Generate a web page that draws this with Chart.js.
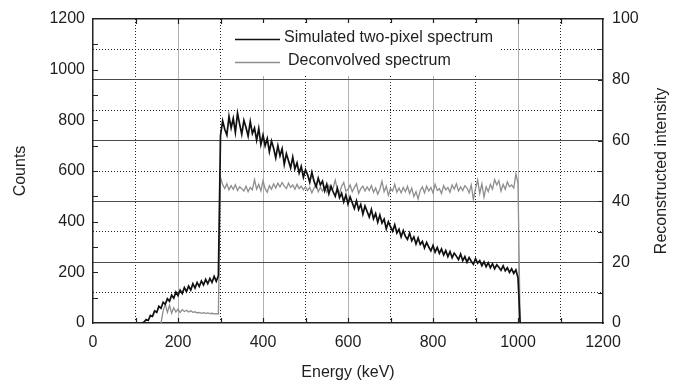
<!DOCTYPE html>
<html>
<head>
<meta charset="utf-8">
<script src="https://cdn.jsdelivr.net/npm/chart.js@4/dist/chart.umd.min.js"></script>
<style>
html,body{margin:0;padding:0;background:#fff;}
#wrap{width:683px;height:387px;}
</style>
</head>
<body>
<div id="wrap"><canvas id="c" width="683" height="387"></canvas></div>
<script>
// ---- Data ----
// Simulated two-pixel spectrum: bins of 5 keV starting at 115 keV (counts, left axis)
const simBinStart = 115;
const simBinWidth = 5;
const simulatedCounts = [
  0, 4, 14, 10, 30, 26, 48, 42, 66, 58, 82, 74, 96, 86, 110, 98, 122, 108, 130, 116,
  140, 124, 146, 130, 155, 138, 160, 144, 166, 150, 172, 155, 176, 160, 184, 165, 186,
  740, 798, 765, 742, 815, 770, 808, 752, 828, 785,
  745, 800, 772, 738, 795, 748, 770, 722, 768, 705,
  742, 700, 728, 676, 718, 690, 652, 700, 660, 688,
  626, 668, 640, 612, 655, 608, 632, 592, 618, 575,
  605, 585, 556, 595, 560, 538, 572, 545, 560, 522,
  548, 510, 540, 518, 500, 532, 495, 512, 478, 505,
  470, 498, 475, 452, 482, 448, 468, 430, 462, 440,
  418, 448, 412, 432, 398, 426, 395, 410, 372, 400,
  380, 362, 388, 355, 370, 340, 365, 342, 330, 355,
  325, 340, 312, 336, 310, 322, 296, 318, 300, 285,
  306, 280, 298, 275, 292, 268, 286, 262, 282, 258,
  276, 264, 250, 272, 246, 262, 240, 258, 244, 232,
  254, 236, 246, 226, 242, 222, 238, 218, 234, 214,
  230, 220, 208, 226, 206, 218, 200, 214, 196, 210,
  178, 0, 0
];
// Deconvolved spectrum: bins of 5 keV starting at 160 keV (reconstructed intensity, right axis)
const deconBinStart = 160;
const deconBinWidth = 5;
const deconvolvedIntensity = [
  0, 4, 6.2, 3.5, 5.8, 3.2, 5.0, 3.6, 4.6, 3.4, 4.4, 3.8, 4.2, 3.6, 4.0, 3.5, 3.7, 3.3, 3.5, 3.2,
  3.4, 3.2, 3.3, 3.1, 3.2, 3.0, 3.1, 3.0,
  48, 45.5, 44.2, 45.8, 43.8, 45.2, 44.0, 45.5, 43.6, 44.8, 44.2, 43.4, 45.0, 43.2, 44.6, 43.8, 47.2, 44.0, 45.6, 43.5,
  46.8, 44.2, 43.0, 45.2, 44.0, 45.8, 44.4, 46.0, 44.8, 46.2, 45.0, 44.2, 46.0, 44.6, 45.4, 44.0, 45.6, 44.2, 45.0, 43.8,
  44.8, 43.6, 44.6, 42.8, 44.4, 45.6, 43.2, 44.6, 43.4, 44.8, 43.0, 45.2, 43.8, 44.4, 47.0, 44.0, 42.6, 45.0, 46.2, 43.4,
  44.0, 45.4, 43.2, 44.6, 45.8, 42.6, 44.2, 45.0, 43.4, 44.8, 43.6, 45.2, 43.0, 44.4, 42.4, 44.0, 46.6, 43.2, 45.0, 42.0,
  44.2, 43.4, 45.6, 43.0, 44.4, 42.8, 44.6, 43.2, 45.0, 42.6, 44.4, 41.6, 43.2, 40.8, 43.6, 44.8, 42.8, 45.0, 43.4, 44.6,
  42.8, 45.6, 43.6, 44.2, 42.6, 45.2, 43.8, 44.6, 43.0, 45.4, 44.0, 45.8, 43.4, 44.8, 43.6, 45.2, 44.4, 42.8, 45.4, 40.6,
  44.2, 47.0, 42.6, 45.8, 41.4, 44.8, 43.2, 45.6, 44.0, 47.2, 45.4, 46.8, 43.4, 45.6, 44.0, 46.4, 44.8, 45.4, 44.4, 49.0,
  46.0, 0, 0
];
const energyTickLabels = [0, 200, 400, 600, 800, 1000, 1200];
const countTickLabels = [0, 200, 400, 600, 800, 1000, 1200];
const intensityTickLabels = [0, 20, 40, 60, 80, 100];
const legendLabels = ['Simulated two-pixel spectrum', 'Deconvolved spectrum'];
const axisTitles = { x: 'Energy (keV)', y: 'Counts', y1: 'Reconstructed intensity' };

// ---- Build points ----
const simPoints = simulatedCounts.map((v, i) => ({ x: simBinStart + i * simBinWidth, y: v }));
const deconPoints = deconvolvedIntensity.map((v, i) => ({ x: deconBinStart + i * deconBinWidth, y: v }));

const FONT = "'Liberation Sans', Arial, Helvetica, sans-serif";
const TXT = '#1e1e1e';
const SIM_COLOR = '#111111';
const DECON_COLOR = '#8e8e8e';

const innerTicks = {
  id: 'innerTicks',
  afterDatasetsDraw(chart) {
    const { ctx, chartArea: a, scales } = chart;
    const L = 5;
    ctx.save();
    ctx.strokeStyle = '#222';
    ctx.lineWidth = 1.2;
    ctx.beginPath();
    for (let v = 100; v < 1200; v += 100) {
      const px = Math.round(scales.x.getPixelForValue(v)) + 0.5;
      ctx.moveTo(px, a.bottom); ctx.lineTo(px, a.bottom - L);
      ctx.moveTo(px, a.top); ctx.lineTo(px, a.top + L);
    }
    for (let v = 100; v < 1200; v += 100) {
      const py = Math.round(scales.y.getPixelForValue(v)) + 0.5;
      ctx.moveTo(a.left, py); ctx.lineTo(a.left + L, py);
    }
    for (let v = 10; v < 100; v += 10) {
      const py = Math.round(scales.y1.getPixelForValue(v)) + 0.5;
      ctx.moveTo(a.right, py); ctx.lineTo(a.right - L, py);
    }
    ctx.stroke();
    ctx.restore();
  },
  afterDraw(chart) {
    const { ctx, chartArea: a } = chart;
    ctx.save();
    // legend box
    ctx.fillStyle = '#ffffff';
    ctx.fillRect(223, 23, 276, 53);
    ctx.lineWidth = 1.5;
    ctx.strokeStyle = SIM_COLOR;
    ctx.beginPath(); ctx.moveTo(235, 39.5); ctx.lineTo(280, 39.5); ctx.stroke();
    ctx.lineWidth = 1.3;
    ctx.strokeStyle = DECON_COLOR;
    ctx.beginPath(); ctx.moveTo(235, 62.5); ctx.lineTo(280, 62.5); ctx.stroke();
    ctx.fillStyle = TXT;
    ctx.font = '16px ' + FONT;
    ctx.textBaseline = 'middle';
    ctx.textAlign = 'left';
    ctx.fillText(legendLabels[0], 284, 38);
    ctx.fillText(legendLabels[1], 288, 61);
    // right axis title (reads bottom-to-top)
    ctx.translate(662, (a.top + a.bottom) / 2);
    ctx.rotate(-Math.PI / 2);
    ctx.textAlign = 'center';
    ctx.fillText(axisTitles.y1, 0, 0);
    ctx.restore();
  }
};

const isMult = (v, m) => Math.abs(v / m - Math.round(v / m)) < 1e-6;

new Chart(document.getElementById('c'), {
  type: 'line',
  data: {
    datasets: [
      {
        label: legendLabels[0],
        data: simPoints,
        xAxisID: 'x', yAxisID: 'y',
        borderColor: SIM_COLOR, borderWidth: 1.7,
        pointRadius: 0, tension: 0, fill: false
      },
      {
        label: legendLabels[1],
        data: deconPoints,
        xAxisID: 'x', yAxisID: 'y1',
        borderColor: DECON_COLOR, borderWidth: 1.3,
        pointRadius: 0, tension: 0, fill: false
      }
    ]
  },
  options: {
    responsive: false,
    animation: false,
    devicePixelRatio: 1,
    layout: { padding: 0 },
    plugins: { legend: { display: false }, tooltip: { enabled: false } },
    scales: {
      x: {
        type: 'linear', position: 'bottom', min: 0, max: 1200,
        ticks: {
          stepSize: 100, autoSkip: false, maxRotation: 0, padding: 10,
          color: TXT, font: { family: FONT, size: 16 },
          callback: v => energyTickLabels.includes(v) ? String(v) : ''
        },
        grid: {
          drawTicks: false, lineWidth: 1,
          color: c => (c.tick && (c.tick.value <= 0 || c.tick.value >= 1200)) ? 'rgba(0,0,0,0)' :
                      (c.tick && isMult(c.tick.value, 200) ? '#b2b2b2' : '#222222')
        },
        border: {
          display: true, color: '#222', width: 1.5,
          dash: c => (c.tick && !isMult(c.tick.value, 200)) ? [1, 2] : []
        },
        title: { display: true, text: axisTitles.x, color: TXT, font: { family: FONT, size: 16 }, padding: { top: 0, bottom: 5 } },
        afterFit: s => { s.height = 64; }
      },
      xTop: {
        type: 'linear', position: 'top', min: 0, max: 1200,
        ticks: { display: false },
        grid: { display: false, drawTicks: false },
        border: { display: true, color: '#222', width: 1.5 },
        afterFit: s => { s.height = 19; }
      },
      y: {
        type: 'linear', position: 'left', min: 0, max: 1200,
        ticks: {
          stepSize: 100, autoSkip: false, padding: 8,
          color: TXT, font: { family: FONT, size: 16 },
          callback: v => countTickLabels.includes(v) ? String(v) : ''
        },
        grid: { display: false, drawTicks: false },
        border: { display: true, color: '#222', width: 1.5 },
        title: { display: true, text: axisTitles.y, color: TXT, font: { family: FONT, size: 16 }, padding: { top: 11, bottom: 0 } },
        afterFit: s => { s.width = 93; }
      },
      y1: {
        type: 'linear', position: 'right', min: 0, max: 100,
        ticks: {
          stepSize: 10, autoSkip: false, padding: 9,
          color: TXT, font: { family: FONT, size: 16 },
          callback: v => intensityTickLabels.includes(v) ? String(v) : ''
        },
        grid: {
          drawTicks: false, lineWidth: 1,
          color: c => (c.tick && (c.tick.value <= 0 || c.tick.value >= 100)) ? 'rgba(0,0,0,0)' :
                      (c.tick && isMult(c.tick.value, 20) ? '#4a4a4a' : '#222222')
        },
        border: {
          display: true, color: '#222', width: 1.5,
          dash: c => (c.tick && !isMult(c.tick.value, 20)) ? [1, 2] : []
        },
        afterFit: s => { s.width = 80; }
      }
    }
  },
  plugins: [innerTicks]
});
</script>
</body>
</html>
